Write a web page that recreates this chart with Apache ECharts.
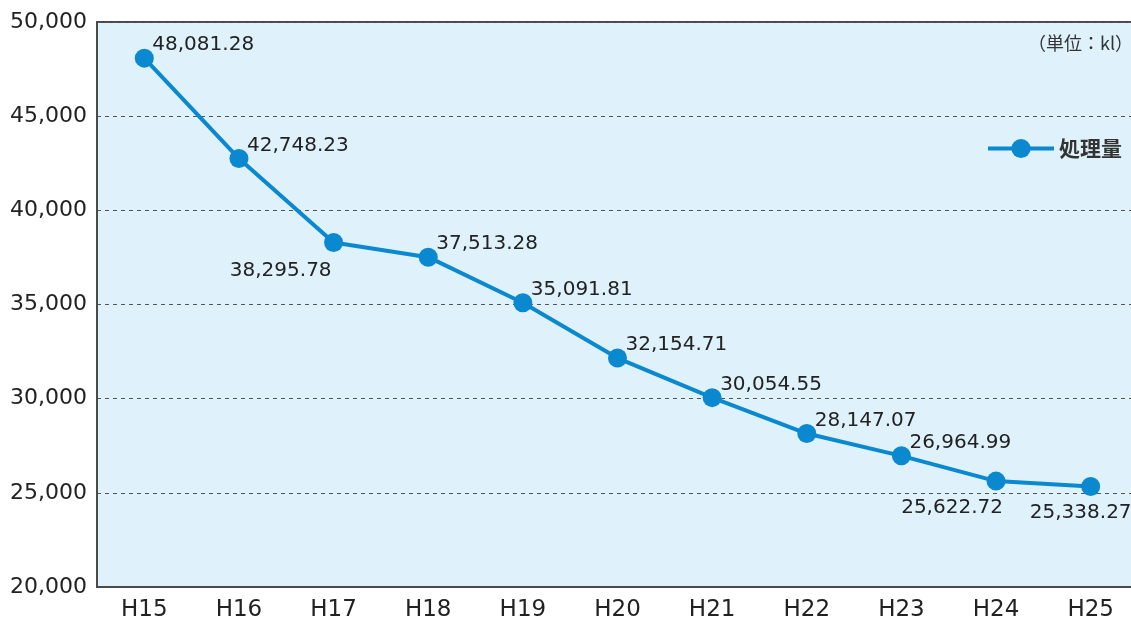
<!DOCTYPE html>
<html>
<head>
<meta charset="utf-8">
<script src="https://cdn.jsdelivr.net/npm/echarts@6/dist/echarts.min.js"></script>
<style>
html, body { margin: 0; padding: 0; background: #fff; }
#chart1 { width: 1131px; height: 623px; }
</style>
</head>
<body>
<div id="chart1"></div>
<script>
var categories = ["H15", "H16", "H17", "H18", "H19", "H20", "H21", "H22", "H23", "H24", "H25"]
var volumes = [48081.28, 42748.23, 38295.78, 37513.28, 35091.81, 32154.71, 30054.55, 28147.07, 26964.99, 25622.72, 25338.27]
var seriesName = "処理量"
var unitText = "（単位：kl）"

var jpFont = "'Noto Sans CJK JP', sans-serif"
var numFont = "'DejaVu Sans', sans-serif"

// where each value label sits relative to its point
var labelUpRight = { align: "left", offset: [8, -13] }
var labelPlace = [
    labelUpRight, labelUpRight,
    { align: "right", offset: [-2, 28] },
    labelUpRight, labelUpRight, labelUpRight, labelUpRight, labelUpRight, labelUpRight,
    { align: "center", offset: [-44, 27] },
    { align: "center", offset: [-10, 26] }
]

var seriesData = volumes.map(function (v, i) {
    return {
        value: v,
        label: { align: labelPlace[i].align, offset: labelPlace[i].offset }
    }
})

var chart = echarts.init(document.querySelector("#chart1"))

var option = {
    animation: false,
    textStyle: { fontFamily: numFont },
    grid: {
        left: 97,
        right: -7,
        top: 22,
        bottom: 36,
        outerBoundsMode: "none",
        show: true,
        backgroundColor: "#dff1fa",
        borderColor: "#4a4a4a",
        borderWidth: 2
    },
    legend: {
        left: 981,
        top: 133,
        itemWidth: 66,
        itemHeight: 24,
        itemGap: 13,
        data: [seriesName],
        lineStyle: { width: 4 },
        textStyle: { fontSize: 21, fontWeight: "bold", color: "#333", fontFamily: jpFont }
    },
    graphic: [{
        type: "text",
        left: 1028,
        top: 34,
        style: { text: unitText, fontSize: 18, fill: "#333", fontFamily: jpFont }
    }],
    xAxis: {
        type: "category",
        data: categories,
        boundaryGap: true,
        axisLine: { show: true, lineStyle: { color: "#4a4a4a", width: 2 } },
        axisTick: { show: false },
        axisLabel: { fontSize: 23, color: "#222", margin: 12, fontFamily: numFont }
    },
    yAxis: {
        type: "value",
        min: 20000,
        max: 50000,
        interval: 5000,
        axisLine: { show: true, lineStyle: { color: "#4a4a4a", width: 2 } },
        axisTick: { show: false },
        axisLabel: {
            fontSize: 22,
            color: "#222",
            margin: 10,
            fontFamily: numFont,
            formatter: function (v) { return v.toLocaleString("en-US") }
        },
        splitLine: { lineStyle: { type: [4, 4], color: "#555", width: 1 } }
    },
    series: [{
        name: seriesName,
        type: "line",
        data: seriesData,
        symbol: "circle",
        symbolSize: 19,
        itemStyle: { color: "#0a88d0" },
        lineStyle: { color: "#0a88d0", width: 4 },
        label: {
            show: true,
            position: "inside",
            verticalAlign: "middle",
            fontSize: 20,
            color: "#222",
            fontFamily: numFont,
            formatter: function (p) {
                return p.value.toLocaleString("en-US", { minimumFractionDigits: 2, maximumFractionDigits: 2 })
            }
        }
    }]
}

chart.setOption(option)
</script>
</body>
</html>
